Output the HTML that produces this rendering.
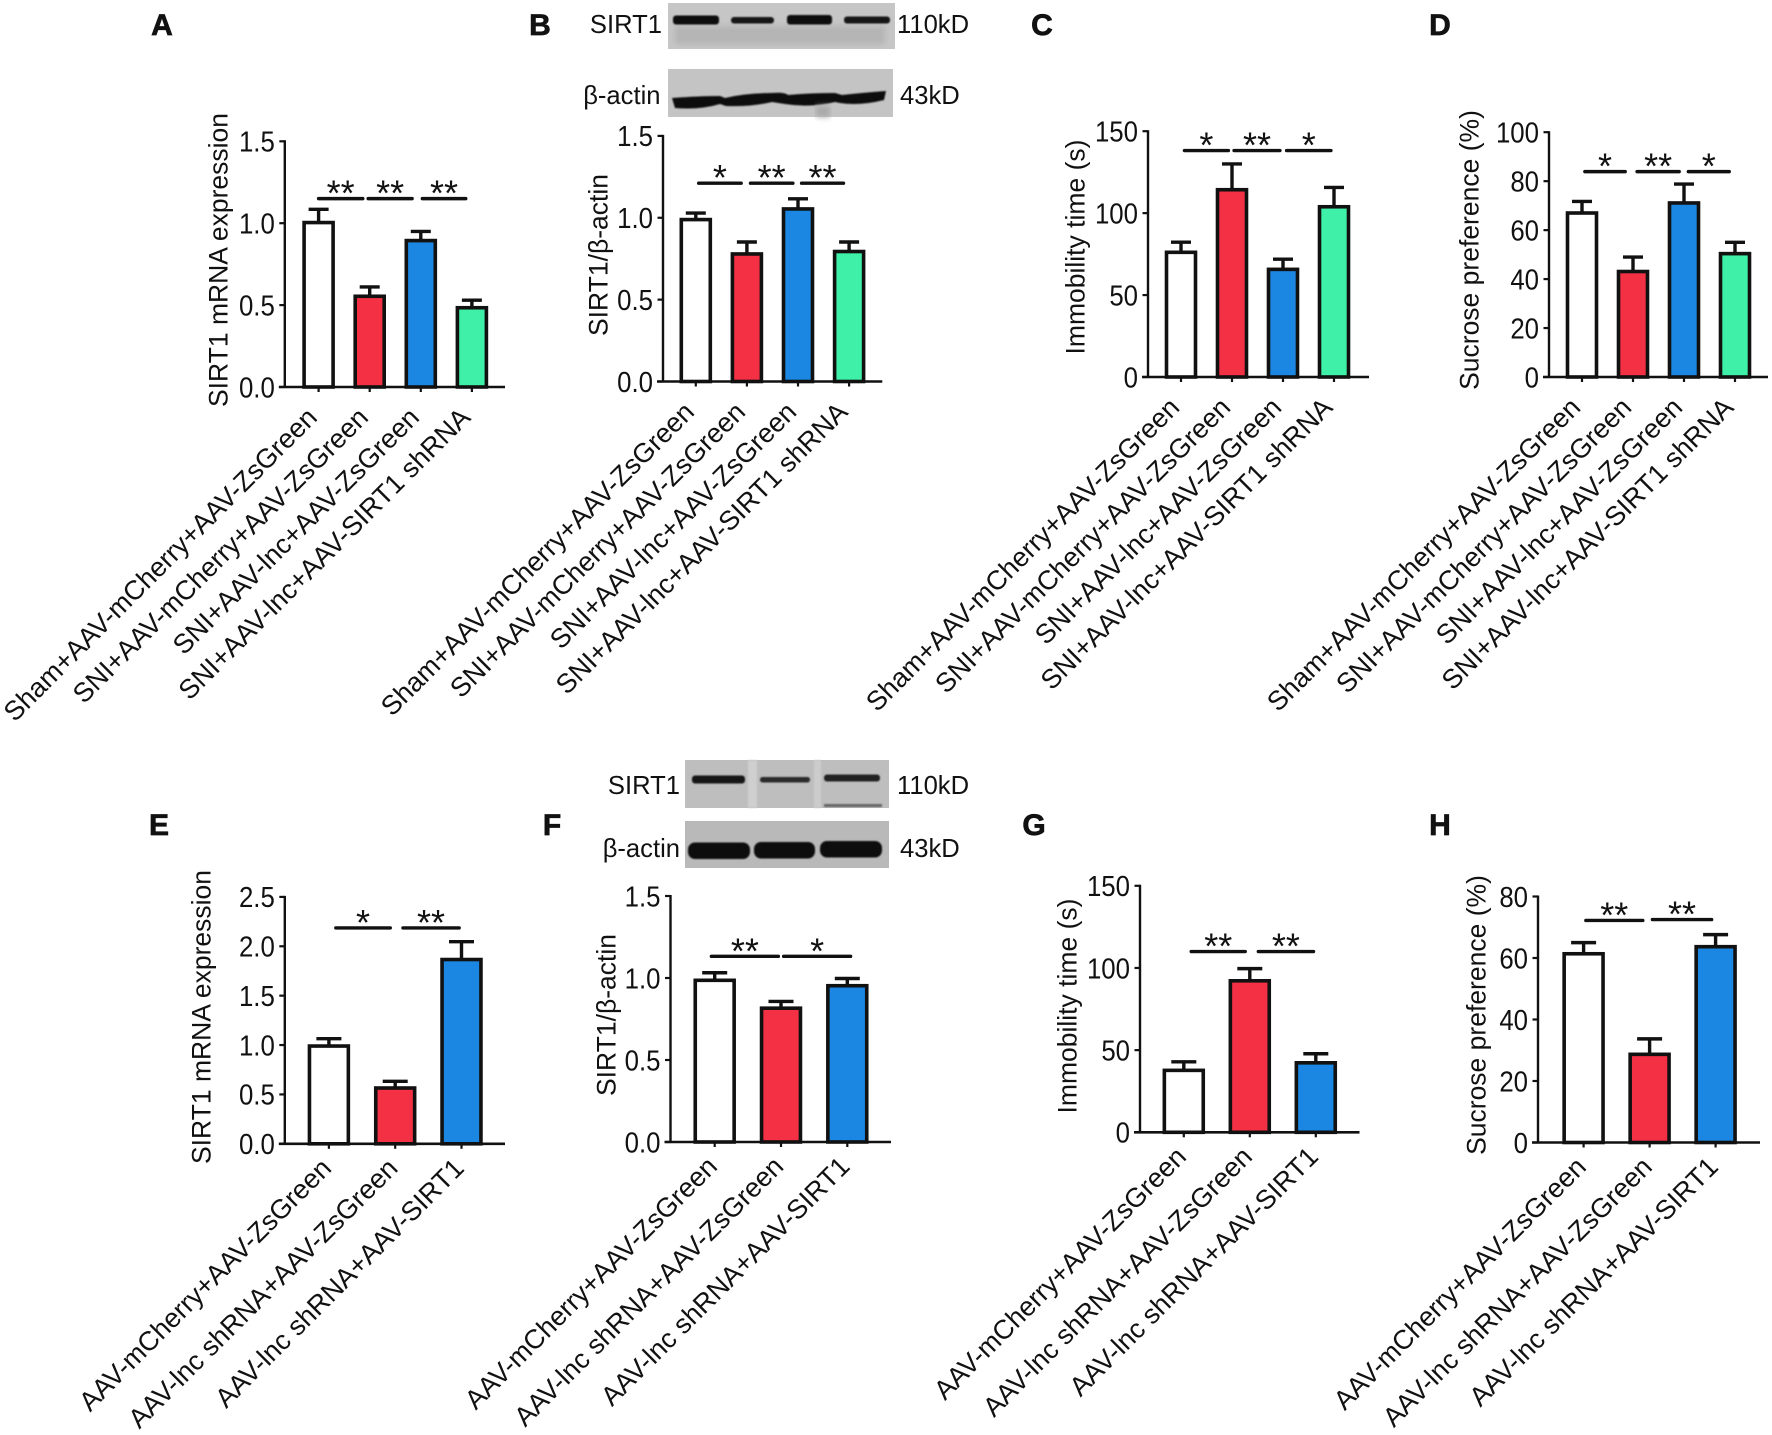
<!DOCTYPE html>
<html lang="en">
<head>
<meta charset="utf-8">
<title>SIRT1 expression and behavior panels</title>
<style>
html,body{margin:0;padding:0;background:#fff;width:1772px;height:1435px;overflow:hidden}
#figure{display:block;position:absolute;left:0;top:0}
text{font-family:"Liberation Sans",Arial,sans-serif;fill:#111}
.letter{font-size:30px;font-weight:bold;stroke:#111;stroke-width:.7px;text-anchor:middle}
</style>
</head>
<body>
<svg id="figure" xmlns="http://www.w3.org/2000/svg" width="1772" height="1435" viewBox="0 0 1772 1435">
<defs>
<filter id="blur1" x="-10%" y="-60%" width="120%" height="220%"><feGaussianBlur stdDeviation="0.9"/></filter>
<filter id="blur3" x="-10%" y="-60%" width="120%" height="220%"><feGaussianBlur stdDeviation="3"/></filter>
</defs>
<g id="blot-b">
<rect x="668" y="3" width="227" height="46" fill="#c6c6c6"/>
<rect x="675" y="26" width="210" height="18" fill="#b4b4b4" filter="url(#blur3)"/>
<rect x="673" y="15.5" width="46" height="9" rx="3" fill="#0f0f0f" filter="url(#blur1)"/>
<rect x="731" y="17" width="43" height="6.5" rx="3" fill="#191919" filter="url(#blur1)"/>
<rect x="787" y="15" width="45" height="9.5" rx="3" fill="#0f0f0f" filter="url(#blur1)"/>
<rect x="844" y="16.5" width="46" height="7" rx="3" fill="#181818" filter="url(#blur1)"/>
<rect x="668" y="69" width="225" height="48" fill="#c4c4c4"/>
<path d="M672 98 Q700 96 720 96 L725 98 Q745 93 772 93 Q785 92 788 95 Q810 93 835 93 L842 95 Q860 93 886 91 L884 100 Q860 106 840 103 L835 102 Q810 108 785 104 L772 102 Q750 107 726 106 L720 104 Q700 110 675 108 Z" fill="#0c0c0c" filter="url(#blur1)"/>
<rect x="816" y="106" width="14" height="11" fill="#a9a9a9" filter="url(#blur3)"/>
</g>
<g id="blot-f">
<rect x="685" y="760" width="204" height="48" fill="#bebebe"/>
<rect x="748" y="760" width="9" height="48" fill="#cfcfcf" filter="url(#blur1)"/>
<rect x="814" y="760" width="7" height="48" fill="#cccccc" filter="url(#blur1)"/>
<rect x="692" y="775.5" width="53" height="8" rx="3" fill="#161616" filter="url(#blur1)"/>
<rect x="760" y="777" width="50" height="5.5" rx="2.5" fill="#2c2c2c" filter="url(#blur1)"/>
<rect x="824" y="774.5" width="56" height="7" rx="3" fill="#202020" filter="url(#blur1)"/>
<rect x="824" y="804" width="58" height="3" fill="#666" filter="url(#blur1)"/>
<rect x="685" y="821" width="204" height="47" fill="#b9b9b9"/>
<rect x="688" y="842.5" width="62" height="16.5" rx="7" fill="#0c0c0c" filter="url(#blur1)"/>
<rect x="754" y="842" width="61" height="16.5" rx="7" fill="#0c0c0c" filter="url(#blur1)"/>
<rect x="820" y="841" width="62" height="16.5" rx="7" fill="#0c0c0c" filter="url(#blur1)"/>
</g>
<g id="plots"></g>
<g id="static-labels" font-size="25.6">
<text class="letter" x="162" y="35">A</text>
<text class="letter" x="540" y="35">B</text>
<text class="letter" x="1042" y="35">C</text>
<text class="letter" x="1440" y="35">D</text>
<text class="letter" x="159" y="835">E</text>
<text class="letter" x="552" y="835">F</text>
<text class="letter" x="1034" y="835">G</text>
<text class="letter" x="1440" y="835">H</text>
<text x="662" y="33" text-anchor="end">SIRT1</text>
<text x="897" y="33">110kD</text>
<text x="660.5" y="104" text-anchor="end">β-actin</text>
<text x="900" y="104">43kD</text>
<text x="680" y="794" text-anchor="end">SIRT1</text>
<text x="897" y="794">110kD</text>
<text x="680" y="857" text-anchor="end">β-actin</text>
<text x="900" y="857">43kD</text>
</g>
</svg>
<script>
const categoriesTop = ['Sham+AAV-mCherry+AAV-ZsGreen', 'SNI+AAV-mCherry+AAV-ZsGreen', 'SNI+AAV-lnc+AAV-ZsGreen', 'SNI+AAV-lnc+AAV-SIRT1 shRNA'];
const categoriesBottom = ['AAV-mCherry+AAV-ZsGreen', 'AAV-lnc shRNA+AAV-ZsGreen', 'AAV-lnc shRNA+AAV-SIRT1'];

const panelAValues = [1.01, 0.56, 0.90, 0.49];
const panelAErrorTops = [1.085, 0.611, 0.95, 0.53];
const panelATicks = ['0.0', '0.5', '1.0', '1.5'];
const panelASigLevels = [1.15, 1.15, 1.15];
const panelASigFrom = [0, 0.97, 2.03];
const panelASigTo = [0.865, 1.83, 2.88];
const panelASigLabels = ['**', '**', '**'];

const panelBValues = [0.995, 0.785, 1.06, 0.80];
const panelBErrorTops = [1.029, 0.852, 1.116, 0.852];
const panelBTicks = ['0.0', '0.5', '1.0', '1.5'];
const panelBSigLevels = [1.211, 1.211, 1.211];
const panelBSigFrom = [0.056, 1.07, 2.07];
const panelBSigTo = [0.888, 1.9, 2.89];
const panelBSigLabels = ['*', '**', '**'];

const panelCValues = [76.7, 114.9, 66.3, 104.5];
const panelCErrorTops = [82.3, 130, 71.9, 115.7];
const panelCTicks = ['0', '50', '100', '150'];
const panelCSigLevels = [138.2, 138.2, 138.2];
const panelCSigFrom = [0.067, 1.04, 2.07];
const panelCSigTo = [0.93, 1.94, 2.94];
const panelCSigLabels = ['*', '**', '*'];

const panelDValues = [67.4, 43.5, 71.5, 50.8];
const panelDErrorTops = [71.7, 49, 78.8, 55];
const panelDTicks = ['0', '20', '40', '60', '80', '100'];
const panelDSigLevels = [83.9, 83.9, 83.9];
const panelDSigFrom = [0.056, 1.08, 2.085];
const panelDSigTo = [0.847, 1.906, 2.887];
const panelDSigLabels = ['*', '**', '*'];

const panelEValues = [1.0, 0.575, 1.876];
const panelEErrorTops = [1.064, 0.633, 2.047];
const panelETicks = ['0.0', '0.5', '1.0', '1.5', '2.0', '2.5'];
const panelESigLevels = [2.186, 2.186];
const panelESigFrom = [0.104, 1.117];
const panelESigTo = [0.926, 1.965];
const panelESigLabels = ['*', '**'];

const panelFValues = [0.992, 0.822, 0.959];
const panelFErrorTops = [1.032, 0.857, 0.997];
const panelFTicks = ['0.0', '0.5', '1.0', '1.5'];
const panelFSigLevels = [1.132, 1.132];
const panelFSigFrom = [-0.05, 1.04];
const panelFSigTo = [0.96, 2.05];
const panelFSigLabels = ['**', '*'];

const panelGValues = [38.3, 92.8, 42.9];
const panelGErrorTops = [42.9, 99.6, 47.8];
const panelGTicks = ['0', '50', '100', '150'];
const panelGSigLevels = [110, 110];
const panelGSigFrom = [0.112, 1.129];
const panelGSigTo = [0.931, 1.966];
const panelGSigLabels = ['**', '**'];

const panelHValues = [61.7, 29, 64];
const panelHErrorTops = [65, 33.7, 67.6];
const panelHTicks = ['0', '20', '40', '60', '80'];
const panelHSigLevels = [72.2, 72.5];
const panelHSigFrom = [0.034, 1.043];
const panelHSigTo = [0.897, 1.94];
const panelHSigLabels = ['**', '**'];

const barColors = ['#ffffff', '#f33044', '#1b87e2', '#3ff0a8'];
const SVG_NS = 'http://www.w3.org/2000/svg';
const plots = document.getElementById('plots');

function make(tag, parent, attrs, text) {
  const node = document.createElementNS(SVG_NS, tag);
  for (const key in attrs) node.setAttribute(key, attrs[key]);
  if (text !== undefined) node.textContent = text;
  parent.appendChild(node);
  return node;
}

function drawPanel(id, frame, yTitle, categories, values, errorTops, ticks, sigLevels, sigFrom, sigTo, sigLabels) {
  const maxValue = parseFloat(ticks[ticks.length - 1]);
  const yScale = function (v) { return frame.zero - (v / maxValue) * (frame.zero - frame.top); };
  const xScale = function (i) { return frame.first + i * frame.step; };

  const group = make('g', plots, {});
  
  

  const title = make('text', group, {
    'font-size': 26.5, 'text-anchor': 'middle',
    transform: 'translate(' + frame.titleX + ' ' + frame.titleY + ') rotate(-90)', y: 9.5
  }, yTitle);
  
  

  ticks.forEach(function (label) {
    const y = yScale(parseFloat(label));
    const tick = make('line', group, { x1: frame.left - 5.5, x2: frame.left, y1: y, y2: y, stroke: '#111', 'stroke-width': 2.2 });
    
    
    const tickText = make('text', group, {
      'font-size': 25.8, 'text-anchor': 'end',
      transform: 'translate(' + (frame.left - 10) + ' ' + (y + 10.3) + ') scale(1 1.12)'
    }, label);
    
    
  });

  values.forEach(function (v, i) {
    const cx = xScale(i);
    const w = frame.barWidth - 3.6;
    const top = yScale(v) + 1;
    const errTop = yScale(errorTops[i]);
    const stem = make('line', group, { x1: cx, x2: cx, y1: top, y2: errTop, stroke: '#111', 'stroke-width': 3.4 });
    
    
    const cap = make('line', group, { x1: cx - frame.capWidth / 2, x2: cx + frame.capWidth / 2, y1: errTop, y2: errTop, stroke: '#111', 'stroke-width': 3.4 });
    
    
    const bar = make('rect', group, { x: cx - w / 2, y: top, width: w, height: frame.zero - top, fill: barColors[i], stroke: '#111', 'stroke-width': 3.6 });
    
    
    const xTick = make('line', group, { x1: cx, x2: cx, y1: frame.zero, y2: frame.zero + 5, stroke: '#111', 'stroke-width': 2.2 });
    
    
    const ax = cx + frame.labelDx;
    const ay = frame.zero + frame.labelDy;
    const xLabel = make('text', group, { 'font-size': frame.labelSize, 'text-anchor': 'end', transform: 'translate(' + ax + ' ' + ay + ') rotate(-45)' }, categories[i]);
    
    
  });

  const yAxis = make('line', group, { x1: frame.left, x2: frame.left, y1: frame.top - 1, y2: frame.zero + 1, stroke: '#111', 'stroke-width': 2.4 });
  
  
  const xAxis = make('line', group, { x1: frame.left - 6, x2: frame.right, y1: frame.zero, y2: frame.zero, stroke: '#111', 'stroke-width': 2.6 });
  
  

  sigLevels.forEach(function (level, i) {
    const y = yScale(level);
    const x1 = xScale(sigFrom[i]);
    const x2 = xScale(sigTo[i]);
    const sigLine = make('line', group, { x1: x1, x2: x2, y1: y, y2: y, stroke: '#111', 'stroke-width': 3.4, 'stroke-linecap': 'round' });
    
    
    const star = make('text', group, { x: (x1 + x2) / 2, y: y + 7, 'font-size': 36, 'text-anchor': 'middle' }, sigLabels[i]);
    
    
  });
}

drawPanel('a', { left: 284.8, top: 141.3, zero: 387, right: 505, first: 318.6, step: 51.1, barWidth: 32.6, capWidth: 20, titleX: 218, titleY: 260, labelDx: 0, labelDy: 32, labelSize: 27 },
  'SIRT1 mRNA expression', categoriesTop, panelAValues, panelAErrorTops, panelATicks, panelASigLevels, panelASigFrom, panelASigTo, panelASigLabels);
drawPanel('b', { left: 663, top: 135.9, zero: 381.5, right: 882.3, first: 695.8, step: 51.1, barWidth: 32.6, capWidth: 20, titleX: 598, titleY: 255, labelDx: 0, labelDy: 32, labelSize: 27 },
  'SIRT1/β-actin', categoriesTop, panelBValues, panelBErrorTops, panelBTicks, panelBSigLevels, panelBSigFrom, panelBSigTo, panelBSigLabels);
drawPanel('c', { left: 1148, top: 131.2, zero: 377, right: 1369, first: 1181, step: 51, barWidth: 32.6, capWidth: 20, titleX: 1075, titleY: 247, labelDx: 0, labelDy: 32, labelSize: 27 },
  'Immobility time (s)', categoriesTop, panelCValues, panelCErrorTops, panelCTicks, panelCSigLevels, panelCSigFrom, panelCSigTo, panelCSigLabels);
drawPanel('d', { left: 1549, top: 132.2, zero: 377, right: 1768, first: 1582, step: 51, barWidth: 32.6, capWidth: 20, titleX: 1469, titleY: 250, labelDx: 0, labelDy: 32, labelSize: 27 },
  'Sucrose preference (%)', categoriesTop, panelDValues, panelDErrorTops, panelDTicks, panelDSigLevels, panelDSigFrom, panelDSigTo, panelDSigLabels);
drawPanel('e', { left: 284.8, top: 896.9, zero: 1143.8, right: 505, first: 328.9, step: 66.3, barWidth: 42.5, capWidth: 25, titleX: 201, titleY: 1017, labelDx: 4, labelDy: 26, labelSize: 27 },
  'SIRT1 mRNA expression', categoriesBottom, panelEValues, panelEErrorTops, panelETicks, panelESigLevels, panelESigFrom, panelESigTo, panelESigLabels);
drawPanel('f', { left: 670.5, top: 896, zero: 1142, right: 891, first: 714.7, step: 66.3, barWidth: 42.5, capWidth: 25, titleX: 606, titleY: 1015, labelDx: 4, labelDy: 26, labelSize: 27 },
  'SIRT1/β-actin', categoriesBottom, panelFValues, panelFErrorTops, panelFTicks, panelFSigLevels, panelFSigFrom, panelFSigTo, panelFSigLabels);
drawPanel('g', { left: 1140, top: 885.8, zero: 1132.3, right: 1359.5, first: 1183.8, step: 66, barWidth: 42.5, capWidth: 25, titleX: 1067, titleY: 1006, labelDx: 4, labelDy: 26, labelSize: 27 },
  'Immobility time (s)', categoriesBottom, panelGValues, panelGErrorTops, panelGTicks, panelGSigLevels, panelGSigFrom, panelGSigTo, panelGSigLabels);
drawPanel('h', { left: 1538, top: 896.5, zero: 1142.5, right: 1760, first: 1583.6, step: 66, barWidth: 42.5, capWidth: 25, titleX: 1476, titleY: 1015, labelDx: 4, labelDy: 26, labelSize: 27 },
  'Sucrose preference (%)', categoriesBottom, panelHValues, panelHErrorTops, panelHTicks, panelHSigLevels, panelHSigFrom, panelHSigTo, panelHSigLabels);
</script>
</body>
</html>
